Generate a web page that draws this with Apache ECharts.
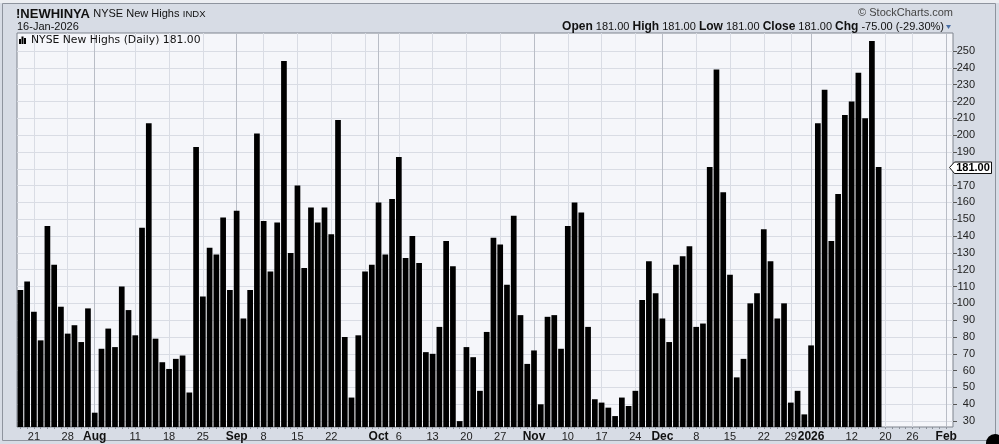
<!DOCTYPE html>
<html><head><meta charset="utf-8">
<script src="https://cdn.jsdelivr.net/npm/echarts@6/dist/echarts.min.js"></script>
<style>html,body{margin:0;padding:0;background:#d7dce5;overflow:hidden}#c{width:999px;height:444px}</style>
</head><body><div id="c"></div>
<script>
// ---- data ----
const startDate = '2025-07-17';
const endDate = '2026-02-02';
const holidays = ['2025-09-01', '2025-11-27', '2025-12-25', '2026-01-01', '2026-01-19'];
// NYSE New Highs, daily, one value per trading day from 2025-07-17 to 2026-01-16
const newHighs = [
  108, 113, 95, 78, 146, 123, 98, 82, 87, 77, 97, 35, 73, 85, 74, 110, 96, 81, 145, 207,
  79, 65, 61, 67, 69, 47, 193, 104, 133, 129, 151, 108, 155, 91, 108, 201, 149, 119, 148, 244,
  130, 170, 121, 157, 148, 157, 141, 209, 80, 44, 81, 119, 123, 160, 129, 162, 187, 127, 140, 124,
  71, 70, 86, 137, 122, 30, 74, 68, 48, 83, 139, 135, 111, 152, 93, 64, 72, 40, 92, 93,
  73, 146, 160, 154, 86, 43, 41, 38, 33, 44, 39, 48, 102, 125, 106, 91, 77, 123, 128, 134,
  86, 88, 181, 239, 166, 117, 56, 67, 100, 106, 144, 125, 91, 100, 41, 48, 34, 75, 207, 227,
  137, 165, 212, 220, 237, 210, 256, 181
];
const lastClose = 181;
const weekGridDays = ['2025-07-21', '2025-07-28', '2025-08-11', '2025-08-18', '2025-08-25', '2025-09-08',
  '2025-09-15', '2025-09-22', '2025-09-29', '2025-10-06', '2025-10-13', '2025-10-20', '2025-10-27',
  '2025-11-10', '2025-11-17', '2025-11-24', '2025-12-08', '2025-12-15', '2025-12-22', '2025-12-29',
  '2026-01-12', '2026-01-20', '2026-01-26'];
const monthGridDays = ['2025-08-01', '2025-09-02', '2025-10-01', '2025-11-03', '2025-12-01', '2026-01-02', '2026-02-02'];
const xLabelDays = ['2025-07-21', '2025-07-28', '2025-08-01', '2025-08-11', '2025-08-18', '2025-08-25',
  '2025-09-02', '2025-09-08', '2025-09-15', '2025-09-22', '2025-10-01', '2025-10-06', '2025-10-13',
  '2025-10-20', '2025-10-27', '2025-11-03', '2025-11-10', '2025-11-17', '2025-11-24', '2025-12-01',
  '2025-12-08', '2025-12-15', '2025-12-22', '2025-12-29', '2026-01-02', '2026-01-12', '2026-01-20',
  '2026-01-26', '2026-02-02'];
const xLabelTexts = ['21', '28', 'Aug', '11', '18', '25', 'Sep', '8', '15', '22', 'Oct', '6', '13',
  '20', '27', 'Nov', '10', '17', '24', 'Dec', '8', '15', '22', '29', '2026', '12', '20', '26', 'Feb'];
const yTickValues = [30, 40, 50, 60, 70, 80, 90, 100, 110, 120, 130, 140, 150, 160, 170, 180, 190, 200, 210, 220, 230, 240, 250];
const yLabelValues = [30, 40, 50, 60, 70, 80, 90, 100, 110, 120, 130, 140, 150, 160, 170, 190, 200, 210, 220, 230, 240, 250];

// ---- trading-day calendar ----
const tradingDays = [];
for (let d = new Date(startDate + 'T00:00:00Z'); d <= new Date(endDate + 'T00:00:00Z'); d.setUTCDate(d.getUTCDate() + 1)) {
  const s = d.toISOString().slice(0, 10);
  const wd = d.getUTCDay();
  if (wd === 0 || wd === 6 || holidays.includes(s)) continue;
  tradingDays.push(s);
}
const idx = s => tradingDays.indexOf(s) + 1;
const weekIdx = weekGridDays.map(idx);
const monthIdx = monthGridDays.map(idx);
const labelIdx = xLabelDays.map(idx);
const labelMap = {};
labelIdx.forEach((i, k) => { labelMap[i] = xLabelTexts[k]; });
const allIdx = tradingDays.map((s, i) => i + 1);
const boldLabels = ['Aug', 'Sep', 'Oct', 'Nov', 'Dec', '2026', 'Feb'];

const FONT = '"Liberation Sans", Arial, sans-serif';
const xMin = 0.5, xMax = 139;
const xBase = () => ({
  type: 'value', min: xMin, max: xMax, position: 'bottom',
  axisLine: { show: false }, axisLabel: { show: false }, axisTick: { show: false }, splitLine: { show: false }
});
const xWeek = xBase();
xWeek.axisTick = { show: false, customValues: weekIdx };
xWeek.splitLine = { show: true, lineStyle: { color: '#d9dce4', width: 1 } };
const xMonth = xBase();
xMonth.axisTick = { show: false, customValues: monthIdx };
xMonth.splitLine = { show: true, lineStyle: { color: '#b9bdc6', width: 1 } };
const xLab = xBase();
xLab.axisTick = { show: true, customValues: allIdx, length: 2, lineStyle: { color: '#8a8f99' } };
xLab.axisLabel = {
  show: true, customValues: labelIdx, margin: 4, fontSize: 11, fontFamily: FONT, color: '#222',
  formatter: v => { const t = labelMap[Math.round(v)] || ''; return boldLabels.includes(t) ? '{b|' + t + '}' : t; },
  rich: { b: { fontWeight: 'bold', fontSize: 12, fontFamily: FONT, color: '#111' } }
};

const chart = echarts.init(document.getElementById('c'), null, { renderer: 'canvas' });
chart.setOption({
  animation: false,
  backgroundColor: '#d7dce5',
  grid: { left: 17, right: 46, top: 33, bottom: 17, show: true, backgroundColor: '#f5f6fa', borderColor: '#7f848e', borderWidth: 1 },
  xAxis: [xWeek, xMonth, xLab],
  yAxis: {
    type: 'value', position: 'right', min: 26.5, max: 260.7,
    axisLine: { show: false },
    axisTick: { show: true, customValues: yTickValues, length: 4, lineStyle: { color: '#555' } },
    axisLabel: { customValues: yLabelValues, align: 'right', margin: 22, fontSize: 11, fontFamily: FONT, color: '#222' },
    splitLine: { show: true, lineStyle: { color: '#d9dce4', width: 1 } }
  },
  series: [{
    type: 'bar', xAxisIndex: 0, barWidth: 5.7,
    itemStyle: { color: '#000' },
    data: newHighs.map((v, i) => [i + 1, v])
  }]
});

const yPix = Math.round(chart.convertToPixel({ yAxisIndex: 0 }, lastClose)) + 0.5;
chart.setOption({
  graphic: [
    { type: 'rect', silent: true, shape: { x: 0, y: 0, width: 999, height: 3 }, style: { fill: '#eceef2' } },
    { type: 'rect', silent: true, shape: { x: 2.5, y: 3.5, width: 993, height: 437 }, style: { fill: 'none', stroke: '#8e949e', lineWidth: 1 } },
    { type: 'text', x: 16, y: 14, style: { text: '{a|!NEWHINYA} {n|NYSE New Highs} {s|INDX}', verticalAlign: 'middle',
      rich: { a: { font: 'bold 13px ' + FONT, fill: '#111' }, n: { font: '11px ' + FONT, fill: '#111' }, s: { font: '9.5px ' + FONT, fill: '#111' } } } },
    { type: 'text', x: 17, y: 26.5, style: { text: '16-Jan-2026', font: '11px ' + FONT, fill: '#111', verticalAlign: 'middle' } },
    { type: 'rect', shape: { x: 19, y: 39, width: 2, height: 5 }, style: { fill: '#000' } },
    { type: 'rect', shape: { x: 21.5, y: 36.5, width: 2, height: 7.5 }, style: { fill: '#000' } },
    { type: 'rect', shape: { x: 24, y: 38, width: 2, height: 6 }, style: { fill: '#000' } },
    { type: 'text', x: 31, y: 40.5, style: { text: 'NYSE New Highs (Daily) 181.00', font: '10.8px "DejaVu Sans", Verdana, sans-serif', fill: '#111', verticalAlign: 'middle' } },
    { type: 'text', x: 953, y: 13, style: { text: '\u00A9 StockCharts.com', font: '11px ' + FONT, fill: '#444', align: 'right', verticalAlign: 'middle' } },
    { type: 'text', x: 944, y: 27, style: {
      text: '{b|Open} 181.00 {b|High} 181.00 {b|Low} 181.00 {b|Close} 181.00 {b|Chg} -75.00 (-29.30%)',
      font: '11px ' + FONT, fill: '#111', align: 'right', verticalAlign: 'middle',
      rich: { b: { font: 'bold 12px ' + FONT, fill: '#111' } } } },
    { type: 'polygon', shape: { points: [[946, 25], [951, 25], [948.5, 29]] }, style: { fill: '#4a6fa5' } },
    { type: 'polygon', z: 100, shape: { points: [[949.5, yPix], [954.5, yPix - 5.5], [991.5, yPix - 5.5], [991.5, yPix + 6], [954.5, yPix + 6]] },
      style: { fill: '#fff', stroke: '#111', lineWidth: 1 } },
    { type: 'text', z: 101, x: 973, y: yPix + 0.5, style: { text: lastClose.toFixed(2), font: 'bold 11px ' + FONT, fill: '#000', align: 'center', verticalAlign: 'middle' } },
    { type: 'circle', shape: { cx: 995, cy: 443, r: 9 }, style: { fill: '#000' } }
  ]
});
</script></body></html>
